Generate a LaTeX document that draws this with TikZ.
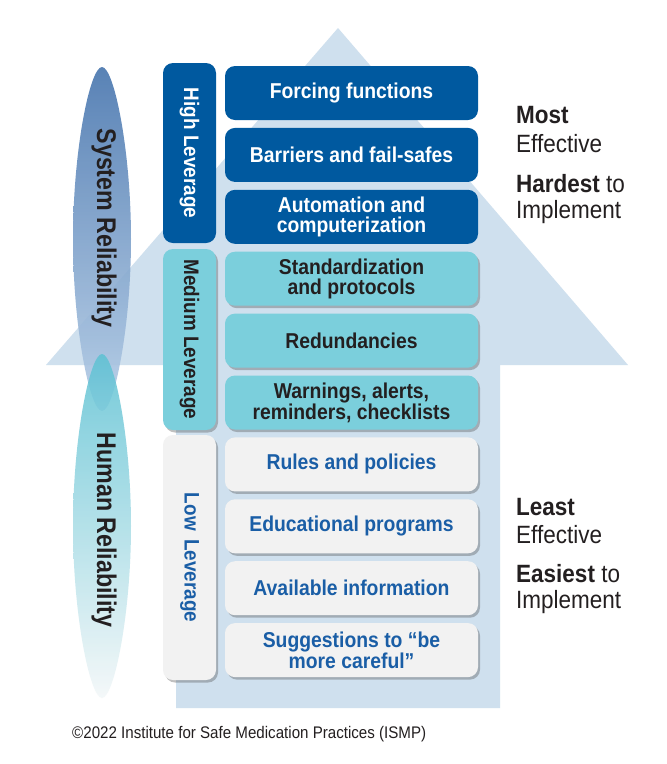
\documentclass[tikz,border=0pt]{standalone}
\usepackage{fontspec}
\setmainfont{Liberation Sans}
\newfontfamily\cond[FakeStretch=0.9]{Liberation Sans}
\newfontfamily\ellfont[FakeStretch=0.86]{Liberation Sans}
\usetikzlibrary{shadows}
\definecolor{dblue}{HTML}{00599F}
\definecolor{mteal}{HTML}{7BCFDC}
\definecolor{lgray}{HTML}{F2F2F2}
\definecolor{lowblue}{HTML}{1A5EA6}
\definecolor{arrowc}{HTML}{CFE0EE}
\definecolor{darktext}{HTML}{231F20}
\definecolor{sysTop}{HTML}{4775AE}
\definecolor{sysMid}{HTML}{7EA3CE}
\definecolor{sysBot}{HTML}{B6CEE7}
\definecolor{humTop}{HTML}{5CC1D3}
\definecolor{humMid}{HTML}{A6D9E4}
\definecolor{humBot}{HTML}{F3F7F8}
\begin{document}
\begin{tikzpicture}[x=1pt,y=-1pt,
  box/.style={rounded corners=10pt, minimum width=253pt, minimum height=54pt,
    inner sep=0pt, align=center, font=\cond\fontsize{21.5}{19.5}\selectfont\bfseries},
  lev/.style={rounded corners=10pt, minimum width=53pt, inner sep=0pt},
  levtext/.style={rotate=-90, inner sep=0pt, font=\cond\fontsize{21}{24}\selectfont\bfseries},
  shad/.style={drop shadow={shadow xshift=2pt, shadow yshift=-2.5pt, opacity=0.35, fill=black!70}},
  hi/.style={fill=dblue, text=white},
  med/.style={fill=mteal, text=darktext, shad},
  low/.style={fill=lgray, text=lowblue, shad},
  rt/.style={anchor=base west, inner sep=0pt, text=darktext, font=\cond\fontsize{25}{28}\selectfont},
  elltext/.style={rotate=-90, inner sep=0pt, text=darktext, font=\ellfont\fontsize{27}{30}\selectfont\bfseries}
]
\useasboundingbox (0,0) rectangle (667,764);
\fill[white] (0,0) rectangle (667,764);
% big arrow
\fill[arrowc] (338,28) -- (628,365) -- (500,365) -- (500,708) -- (176,708)
  -- (176,365) -- (46,365) -- cycle;
% reliability lenses
\shade[top color=sysTop, middle color=sysMid, bottom color=sysBot, opacity=0.9]
  (102,67) .. controls (114,67) and (131,150) .. (131,239)
  .. controls (131,328) and (114,411) .. (102,411)
  .. controls (90,411) and (73,328) .. (73,239)
  .. controls (73,150) and (90,67) .. (102,67) -- cycle;
\shade[top color=humTop, middle color=humMid, bottom color=humBot, opacity=0.85]
  (102,354) .. controls (114,354) and (131,437) .. (131,526)
  .. controls (131,615) and (114,698) .. (102,698)
  .. controls (90,698) and (73,615) .. (73,526)
  .. controls (73,437) and (90,354) .. (102,354) -- cycle;
\node[elltext] (sys) at (104,228) {System Reliability};
\node[elltext] (hum) at (104,530) {Human Reliability};
% leverage column
\node[lev, hi, minimum height=180pt] (hl) at (189.5,153) {};
\node[levtext, text=white] (hlt) at (hl.center) {High Leverage};
\node[lev, med, minimum height=181pt] (ml) at (189.5,339.5) {};
\node[levtext, text=darktext] (mlt) at (ml.center) {Medium Leverage};
\node[lev, low, minimum height=245pt] (ll) at (189.5,557.5) {};
\node[levtext, text=lowblue] (llt) at (ll.center) {Low\hspace{0.4em}Leverage};
% strategy boxes
\node[box, hi]  (b1)  at (351.5,93)    {Forcing functions};
\node[box, hi]  (b2)  at (351.5,154.9) {Barriers and fail-safes};
\node[box, hi]  (b3)  at (351.5,216.8) {Automation and\\computerization};
\node[box, med] (b4)  at (351.5,278.7) {Standardization\\and protocols};
\node[box, med] (b5)  at (351.5,340.6) {Redundancies};
\node[box, med] (b6)  at (351.5,402.5) {Warnings, alerts,\\reminders, checklists};
\node[box, low] (b7)  at (351.5,464.4) {Rules and policies};
\node[box, low] (b8)  at (351.5,526.3) {Educational programs};
\node[box, low] (b9)  at (351.5,588.2) {Available information};
\node[box, low] (b10) at (351.5,650.1) {Suggestions to “be\\more careful”};
% right labels
\node[rt] (most) at (516,123) {\bfseries Most};
\node[rt] (eff1) at (516,152) {Effective};
\node[rt] (hard) at (516,192) {\textbf{Hardest} to};
\node[rt] (imp1) at (516,218) {Implement};
\node[rt] (least) at (516,515) {\bfseries Least};
\node[rt] (eff2) at (516,543) {Effective};
\node[rt] (easy) at (516,582) {\textbf{Easiest} to};
\node[rt] (imp2) at (516,608) {Implement};
% copyright
\node[anchor=base west, inner sep=0pt, text=darktext, font=\cond\fontsize{16.8}{20}\selectfont] (copy) at (72,738) {©2022 Institute for Safe Medication Practices (ISMP)};
\end{tikzpicture}
\end{document}
